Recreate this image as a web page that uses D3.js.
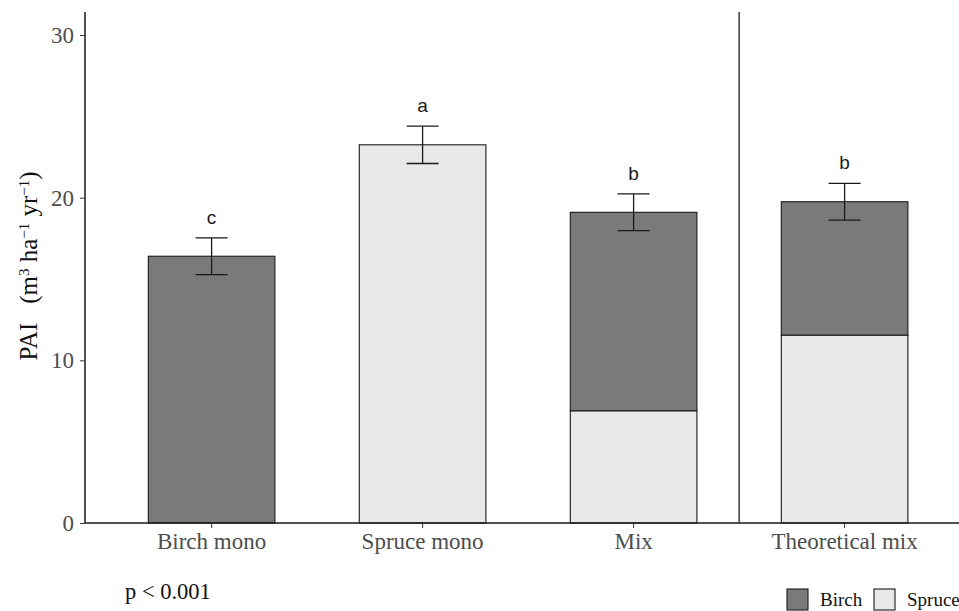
<!DOCTYPE html>
<html>
<head>
<meta charset="utf-8">
<script src="https://cdn.jsdelivr.net/npm/d3@7"></script>
<style>
  body { margin: 0; background: #fff; }
  svg { display: block; }
</style>
</head>
<body>
<svg id="chart" width="959" height="611"></svg>
<script>
// data
const categories = ['Birch mono', 'Spruce mono', 'Mix', 'Theoretical mix'];
const birchPart = [16.4, 0, 12.2, 8.2];
const sprucePart = [0, 23.25, 6.9, 11.55];
const seValues = [1.13, 1.15, 1.13, 1.13];
const letters = ['c', 'a', 'b', 'b'];
const yTicks = [0, 10, 20, 30];
const legendKeys = ['Birch', 'Spruce'];

const colors = { Birch: '#7a7a7a', Spruce: '#e8e8e8' };
const serif = 'Liberation Serif, Times New Roman, serif';

const svg = d3.select('#chart');
const margin = { top: 12, left: 85 };
const y0 = 523;

const y = d3.scaleLinear().domain([0, 30]).range([y0, 35]);
const step = 211;
const x = d3.scaleBand()
  .domain(categories)
  .range([margin.left + step * 0.6 - step / 2, margin.left + step * 0.6 - step / 2 + step * categories.length])
  .paddingInner(0.4)
  .paddingOuter(0.2);

const g = svg.append('g');

// stacked bars: spruce bottom, birch on top
const rows = categories.map((c, i) => ({
  cat: c, spruce: sprucePart[i], birch: birchPart[i], se: seValues[i], letter: letters[i]
}));

g.selectAll('rect.spruce')
  .data(rows.filter(d => d.spruce > 0))
  .join('rect')
  .attr('class', 'spruce')
  .attr('x', d => x(d.cat))
  .attr('width', x.bandwidth())
  .attr('y', d => y(d.spruce))
  .attr('height', d => y(0) - y(d.spruce))
  .attr('fill', colors.Spruce)
  .attr('stroke', '#1a1a1a')
  .attr('stroke-width', 1.1);

g.selectAll('rect.birch')
  .data(rows.filter(d => d.birch > 0))
  .join('rect')
  .attr('class', 'birch')
  .attr('x', d => x(d.cat))
  .attr('width', x.bandwidth())
  .attr('y', d => y(d.spruce + d.birch))
  .attr('height', d => y(d.spruce) - y(d.spruce + d.birch))
  .attr('fill', colors.Birch)
  .attr('stroke', '#1a1a1a')
  .attr('stroke-width', 1.1);

// error bars
const cx = d => x(d.cat) + x.bandwidth() / 2;
const total = d => d.spruce + d.birch;
const eb = g.selectAll('g.err').data(rows).join('g').attr('class', 'err')
  .attr('stroke', '#1a1a1a').attr('stroke-width', 1.3);
eb.append('line')
  .attr('x1', cx).attr('x2', cx)
  .attr('y1', d => y(total(d) + d.se)).attr('y2', d => y(total(d) - d.se));
eb.append('line')
  .attr('x1', d => cx(d) - 16).attr('x2', d => cx(d) + 16)
  .attr('y1', d => y(total(d) + d.se)).attr('y2', d => y(total(d) + d.se));
eb.append('line')
  .attr('x1', d => cx(d) - 16).attr('x2', d => cx(d) + 16)
  .attr('y1', d => y(total(d) - d.se)).attr('y2', d => y(total(d) - d.se));

// significance letters
g.selectAll('text.letter').data(rows).join('text')
  .attr('class', 'letter')
  .attr('x', cx)
  .attr('y', d => y(total(d) + d.se) - 14)
  .attr('text-anchor', 'middle')
  .attr('font-family', 'Liberation Sans, Arial, sans-serif')
  .attr('font-size', 19)
  .attr('fill', '#1a1a1a')
  .text(d => d.letter);

// separator line between Mix and Theoretical mix
const sepX = (x('Mix') + x.bandwidth() / 2 + x('Theoretical mix') + x.bandwidth() / 2) / 2;
g.append('line')
  .attr('x1', sepX).attr('x2', sepX)
  .attr('y1', margin.top).attr('y2', y0)
  .attr('stroke', '#1a1a1a').attr('stroke-width', 1.3);

// y axis
const yAxis = g.append('g')
  .attr('transform', 'translate(' + margin.left + ',0)')
  .call(d3.axisLeft(y).tickValues(yTicks).tickSize(5).tickPadding(6));
yAxis.select('.domain').attr('d', 'M0,' + margin.top + 'V' + y0)
  .attr('stroke', '#1a1a1a').attr('stroke-width', 1.5);
yAxis.selectAll('.tick line').attr('stroke', '#333');
yAxis.selectAll('.tick text')
  .attr('font-family', serif)
  .attr('font-size', 23)
  .attr('fill', '#4d4d4d');

// x axis
const xAxis = g.append('g')
  .attr('transform', 'translate(0,' + y0 + ')')
  .call(d3.axisBottom(x).tickSize(5).tickPadding(5));
xAxis.select('.domain').attr('d', 'M' + margin.left + ',0H959')
  .attr('stroke', '#1a1a1a').attr('stroke-width', 1.5);
xAxis.selectAll('.tick line').attr('stroke', '#333');
xAxis.selectAll('.tick text')
  .attr('font-family', serif)
  .attr('font-size', 23)
  .attr('fill', '#4d4d4d');

// y axis title
const yt = svg.append('text')
  .attr('transform', 'translate(37,266) rotate(-90)')
  .attr('text-anchor', 'middle')
  .attr('font-family', serif)
  .attr('font-size', 25)
  .attr('fill', '#111');
yt.append('tspan').text('PAI\u00a0\u00a0\u00a0(m');
yt.append('tspan').attr('baseline-shift', 'super').attr('font-size', 15).text('3');
yt.append('tspan').text('\u00a0ha');
yt.append('tspan').attr('baseline-shift', 'super').attr('font-size', 15).text('\u22121');
yt.append('tspan').text('\u00a0yr');
yt.append('tspan').attr('baseline-shift', 'super').attr('font-size', 15).text('\u22121');
yt.append('tspan').text(')');

// p value
svg.append('text')
  .attr('x', 125).attr('y', 599)
  .attr('font-family', serif)
  .attr('font-size', 22.5)
  .attr('fill', '#111')
  .text('p < 0.001');

// legend
const legendX = [787, 874];
const lg = svg.selectAll('g.legend').data(legendKeys).join('g')
  .attr('class', 'legend')
  .attr('transform', (d, i) => 'translate(' + legendX[i] + ',589)');
lg.append('rect')
  .attr('width', 21).attr('height', 21)
  .attr('fill', d => colors[d])
  .attr('stroke', '#1a1a1a').attr('stroke-width', 1.1);
lg.append('text')
  .attr('x', 33).attr('y', 17)
  .attr('font-family', serif)
  .attr('font-size', 19)
  .attr('fill', '#111')
  .text(d => d);
</script>
</body>
</html>
